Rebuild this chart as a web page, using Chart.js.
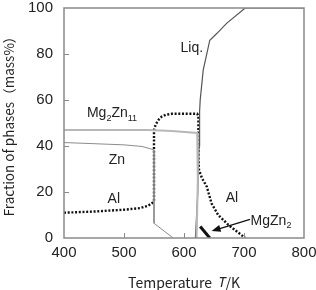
<!DOCTYPE html>
<html><head><meta charset="utf-8">
<script src="https://cdn.jsdelivr.net/npm/chart.js@4.4.0/dist/chart.umd.min.js"></script>
<style>html,body{margin:0;padding:0;background:#fff;}#wrap{width:316px;height:290px;position:relative;}</style>
</head><body><div id="wrap"><canvas id="c" width="316" height="290"></canvas></div>
<script>
// Axis ticks
const xTicks = [400, 500, 600, 700, 800];
const yTicks = [0, 20, 40, 60, 80, 100];

// Phase fraction curves (temperature K, mass%)
const mg2zn11T = [400, 540, 580, 622, 623, 621];
const mg2zn11V = [47, 47, 46.5, 45.7, 25, 0];
const znT = [400, 450, 500, 530, 545, 550, 550, 582];
const znV = [41.5, 41, 40.5, 39.8, 38.7, 38.3, 6.4, 0];
const alT = [400, 450, 500, 527, 540, 547, 550, 550, 553, 558, 563, 570, 580, 622, 624, 624, 625, 630, 638, 646, 657, 674, 702];
const alV = [11, 11.5, 12.3, 13, 14, 15.2, 16, 47, 49.5, 51.5, 52.8, 53.6, 54, 54, 53, 35, 29.6, 26, 22.3, 15, 10, 5.7, 0];
const liqT = [619, 623, 625, 626, 627, 632, 643, 655, 671, 702, 800];
const liqV = [0, 20, 40, 55, 60, 73, 86, 89, 93.3, 100, 100];
const mgzn2T = [627, 643];
const mgzn2V = [5, 0];

// Phase labels (text parts: [text, isSubscript]) and anchor positions in data units
const labelParts = [
  [["Mg", 0], ["2", 1], ["Zn", 0], ["11", 1]],
  [["Zn", 0]],
  [["Al", 0]],
  [["Al", 0]],
  [["MgZn", 0], ["2", 1]],
  [["Liq.", 0]]
];
const labelT = [480, 488, 483, 680, 745, 613];
const labelV = [54.3, 33.9, 17, 17.4, 7.4, 82.6];
// Arrow from MgZn2 label to the MgZn2 curve
const arrowT = [710, 646];
const arrowV = [8.1, 3];

const pts = (xs, ys) => xs.map((x, i) => ({ x: x, y: ys[i] }));
const TXT = '#222';

const decor = {
  id: 'decor',
  afterDatasetsDraw(chart) {
    const { ctx, chartArea: a, scales: { x, y } } = chart;
    ctx.save();
    // frame
    ctx.strokeStyle = '#8a8a8a';
    ctx.lineWidth = 1.5;
    ctx.strokeRect(a.left, a.top, a.right - a.left, a.bottom - a.top);
    // inward ticks
    ctx.lineWidth = 1;
    ctx.beginPath();
    xTicks.slice(1, -1).forEach(v => { const px = Math.round(x.getPixelForValue(v)) + 0.5; ctx.moveTo(px, a.bottom); ctx.lineTo(px, a.bottom - 5); });
    yTicks.slice(1, -1).forEach(v => { const py = Math.round(y.getPixelForValue(v)) + 0.5; ctx.moveTo(a.left, py); ctx.lineTo(a.left + 5, py); });
    ctx.stroke();
    // labels
    ctx.fillStyle = TXT;
    ctx.textBaseline = 'middle';
    labelParts.forEach((parts, i) => {
      let w = 0;
      parts.forEach(([t, s]) => { ctx.font = (s ? '9px' : '14px') + ' "Liberation Sans", Arial, sans-serif'; w += ctx.measureText(t).width; });
      let px = x.getPixelForValue(labelT[i]) - w / 2;
      const py = y.getPixelForValue(labelV[i]);
      parts.forEach(([t, s]) => {
        ctx.font = (s ? '9px' : '14px') + ' "Liberation Sans", Arial, sans-serif';
        ctx.textAlign = 'left';
        ctx.fillText(t, px, s ? py + 5 : py);
        px += ctx.measureText(t).width;
      });
    });
    // arrow
    const x0 = x.getPixelForValue(arrowT[0]), y0 = y.getPixelForValue(arrowV[0]);
    const x1 = x.getPixelForValue(arrowT[1]), y1 = y.getPixelForValue(arrowV[1]);
    const ang = Math.atan2(y1 - y0, x1 - x0);
    ctx.strokeStyle = '#111';
    ctx.lineWidth = 1.2;
    ctx.beginPath();
    ctx.moveTo(x0, y0);
    ctx.lineTo(x1 - 6 * Math.cos(ang), y1 - 6 * Math.sin(ang));
    ctx.stroke();
    ctx.fillStyle = '#111';
    ctx.beginPath();
    ctx.moveTo(x1, y1);
    ctx.lineTo(x1 - 9 * Math.cos(ang) + 3.5 * Math.sin(ang), y1 - 9 * Math.sin(ang) - 3.5 * Math.cos(ang));
    ctx.lineTo(x1 - 9 * Math.cos(ang) - 3.5 * Math.sin(ang), y1 - 9 * Math.sin(ang) + 3.5 * Math.cos(ang));
    ctx.closePath();
    ctx.fill();
    // x axis title with italic T
    const parts = [["Temperature  ", '14px "Noto Sans CJK JP", sans-serif'], ["T", 'italic 14px "Noto Sans", sans-serif'], ["/K", '14px "Noto Sans CJK JP", sans-serif']];
    let tw = 0;
    parts.forEach(([t, f]) => { ctx.font = f; tw += ctx.measureText(t).width; });
    let tx = (a.left + a.right) / 2 - tw / 2;
    ctx.fillStyle = TXT;
    ctx.textAlign = 'left';
    ctx.textBaseline = 'middle';
    parts.forEach(([t, f]) => { ctx.font = f; ctx.fillText(t, tx, 283); tx += ctx.measureText(t).width; });
    ctx.restore();
  }
};

new Chart(document.getElementById('c'), {
  type: 'scatter',
  data: {
    datasets: [
      { label: 'Mg2Zn11', data: pts(mg2zn11T, mg2zn11V), showLine: true, borderColor: '#b8b8b8', borderWidth: 2, pointRadius: 0, tension: 0 },
      { label: 'Zn', data: pts(znT, znV), showLine: true, borderColor: '#8c8c8c', borderWidth: 1, pointRadius: 0, tension: 0 },
      { label: 'Liq.', data: pts(liqT, liqV), showLine: true, borderColor: '#555', borderWidth: 1.2, pointRadius: 0, tension: 0 },
      { label: 'Al', data: pts(alT, alV), showLine: true, borderColor: '#111', borderWidth: 2.4, borderDash: [2, 1.7], pointRadius: 0, tension: 0 },
      { label: 'MgZn2', data: pts(mgzn2T, mgzn2V), showLine: true, borderColor: '#111', borderWidth: 3, pointRadius: 0, tension: 0 }
    ]
  },
  options: {
    responsive: false,
    animation: false,
    events: [],
    layout: { padding: { top: 8, right: 12, left: 0, bottom: 0 } },
    plugins: { legend: { display: false }, tooltip: { enabled: false } },
    scales: {
      x: {
        type: 'linear', min: 400, max: 800,
        afterBuildTicks: s => { s.ticks = xTicks.map(v => ({ value: v })); },
        afterFit: s => { s.height = 52; s.paddingLeft = 0; s.paddingRight = 0; },
        grid: { display: false, drawTicks: false },
        border: { display: false },
        ticks: { color: TXT, padding: 6, font: { family: '"Liberation Sans", Arial, sans-serif', size: 15 }, maxRotation: 0 }
      },
      y: {
        type: 'linear', min: 0, max: 100,
        afterBuildTicks: s => { s.ticks = yTicks.map(v => ({ value: v })); },
        afterFit: s => { s.width = 64; s.paddingTop = 0; s.paddingBottom = 0; },
        grid: { display: false, drawTicks: false },
        border: { display: false },
        ticks: { color: TXT, padding: 11, font: { family: '"Liberation Sans", Arial, sans-serif', size: 15 } },
        title: { display: true, text: 'Fraction of phases（mass%）', color: TXT, padding: { top: 1, bottom: 0 }, font: { family: '"Noto Sans CJK JP", sans-serif', size: 13.5 } }
      }
    }
  },
  plugins: [decor]
});
</script>
</body></html>
